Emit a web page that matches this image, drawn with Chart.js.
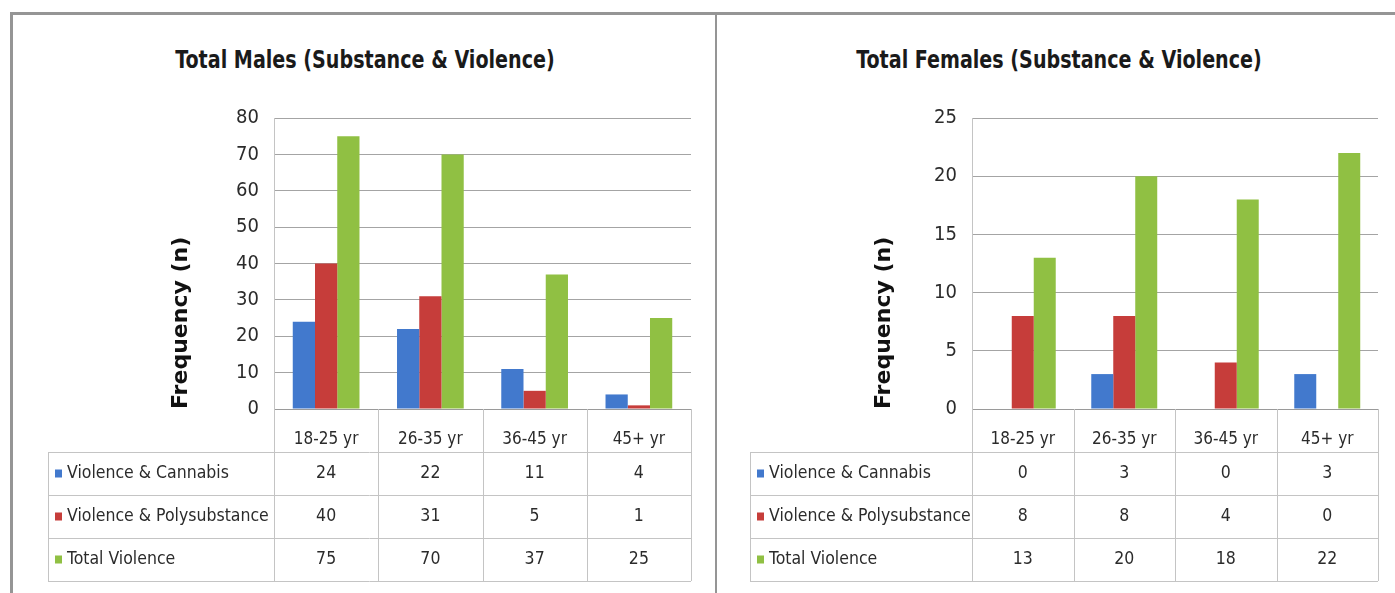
<!DOCTYPE html>
<html>
<head>
<meta charset="utf-8">
<script src="https://cdn.jsdelivr.net/npm/chart.js@4.4.1/dist/chart.umd.min.js"></script>
<style>
  body { margin: 0; background: #fff; }
  #page { position: relative; width: 1395px; height: 593px; overflow: hidden; background: #fff; }
  .line { position: absolute; background: #959595; }
  .ttl { position: absolute; top: 45px; width: 600px; text-align: center; transform: scaleX(0.85);
         font: bold 25px "Liberation Sans Narrow", "DejaVu Sans Condensed", sans-serif; color: #1a1a1a; }
  canvas { position: absolute; }
</style>
</head>
<body>
<div id="page">
  <div class="line" style="left:10px; top:12px; width:1385px; height:3px;"></div>
  <div class="line" style="left:10px; top:12px; width:3px; height:581px;"></div>
  <div class="line" style="left:715px; top:12px; width:2px; height:581px;"></div>
  <div class="ttl" style="left:65px;">Total Males (Substance &amp; Violence)</div>
  <div class="ttl" style="left:759px;">Total Females (Substance &amp; Violence)</div>
  <canvas id="males" width="700" height="578" style="left:14px; top:15px;"></canvas>
  <canvas id="females" width="677" height="578" style="left:718px; top:15px;"></canvas>
</div>
<script>
// data
const categories = ['18-25 yr', '26-35 yr', '36-45 yr', '45+ yr'];
const seriesNames = ['Violence & Cannabis', 'Violence & Polysubstance', 'Total Violence'];
const seriesColors = ['#4279cd', '#c63d3a', '#90c043'];

const maleCannabis = [24, 22, 11, 4];
const malePoly = [40, 31, 5, 1];
const maleTotal = [75, 70, 37, 25];

const femaleCannabis = [0, 3, 0, 3];
const femalePoly = [8, 8, 4, 0];
const femaleTotal = [13, 20, 18, 22];

const maleAxis = { max: 80, step: 10 };
const femaleAxis = { max: 25, step: 5 };

const txtFont = '"Liberation Sans Narrow", "DejaVu Sans Condensed", sans-serif';

// draws the excel style data table under the plot
const dataTable = {
  id: 'dataTable',
  afterDraw(chart, args, opts) {
    const ctx = chart.ctx;
    const xs = chart.scales.x;
    const area = chart.chartArea;
    const n = chart.data.labels.length;
    const cw = (area.right - area.left) / n;
    const headBot = xs.bottom;
    const rows = chart.data.datasets.length;
    const rowH = opts.rowHeight;
    const bottom = headBot + rows * rowH;

    ctx.save();
    ctx.strokeStyle = '#c4c4c4';
    ctx.lineWidth = 1;
    ctx.beginPath();
    for (let i = 0; i <= n; i++) {
      const x = Math.round(area.left + i * cw) + 0.5;
      ctx.moveTo(x, area.bottom);
      ctx.lineTo(x, bottom);
    }
    ctx.moveTo(opts.left + 0.5, headBot);
    ctx.lineTo(opts.left + 0.5, bottom);
    for (let r = 0; r <= rows; r++) {
      const y = Math.round(headBot + r * rowH) + 0.5;
      ctx.moveTo(opts.left, y);
      ctx.lineTo(area.right, y);
    }
    ctx.stroke();

    ctx.font = '17.5px ' + txtFont;
    ctx.textBaseline = 'middle';
    chart.data.datasets.forEach((ds, r) => {
      const cy = headBot + r * rowH + rowH / 2;
      ctx.fillStyle = ds.backgroundColor;
      ctx.fillRect(opts.left + 7, cy - 4, 7, 8);
      ctx.fillStyle = '#2b2b2b';
      ctx.textAlign = 'left';
      ctx.fillText(ds.label, opts.left + 19, cy);
      ctx.textAlign = 'center';
      ds.data.forEach((v, i) => {
        ctx.fillText(String(v), xs.getPixelForValue(i), cy);
      });
    });
    ctx.restore();
  }
};

function makeChart(id, values, axis, lay) {
  const datasets = values.map((vals, k) => ({
    label: seriesNames[k],
    data: vals,
    backgroundColor: seriesColors[k],
    borderWidth: 0,
    barPercentage: 1.0,
    categoryPercentage: lay.catPct
  }));
  return new Chart(document.getElementById(id), {
    type: 'bar',
    data: { labels: categories, datasets: datasets },
    plugins: [dataTable],
    options: {
      responsive: false,
      animation: false,
      layout: { padding: { left: lay.padLeft, right: lay.padRight, top: 103, bottom: 141 } },
      plugins: {
        legend: { display: false },
        tooltip: { enabled: false },
        dataTable: { left: lay.tableLeft, rowHeight: 43 }
      },
      scales: {
        x: {
          grid: { display: false },
          border: { display: true, color: '#9a9a9a' },
          ticks: { color: '#2b2b2b', padding: 12, font: { family: txtFont, size: 17 } },
          afterFit: (s) => { s.height = 43; }
        },
        y: {
          min: 0,
          max: axis.max,
          grid: { color: '#a4a4a4', drawTicks: false },
          border: { display: true, color: '#c4c4c4' },
          ticks: { stepSize: axis.step, color: '#2b2b2b', padding: lay.tickPad, font: { family: txtFont, size: 20 } },
          title: {
            display: true,
            align: 'start',
            text: 'Frequency (n)',
            color: '#111',
            font: { family: '"DejaVu Sans", Verdana, sans-serif', size: 22, weight: 'bold' }
          },
          afterFit: (s) => { s.width = lay.yWidth; }
        }
      }
    }
  });
}

makeChart('males', [maleCannabis, malePoly, maleTotal], maleAxis,
  { padLeft: 150, padRight: 23, yWidth: 110, tickPad: 15, tableLeft: 34, catPct: 0.64 });
makeChart('females', [femaleCannabis, femalePoly, femaleTotal], femaleAxis,
  { padLeft: 149, padRight: 17, yWidth: 105, tickPad: 15, tableLeft: 32, catPct: 0.65 });
</script>
</body>
</html>
